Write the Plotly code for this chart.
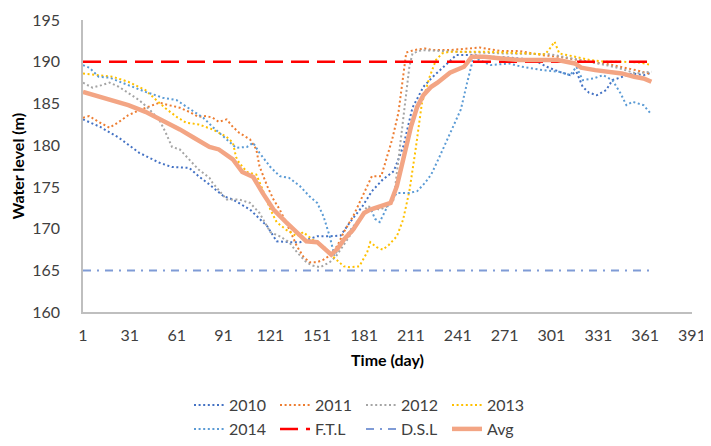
import plotly.graph_objects as go

# ---------------- data ----------------
days_2010 = [1,12,24,37,50,58,69,75,82,91,97,108,119,125,134,140,151,159,166,172,180,186,193,200,206,212,219,225,232,240,250,262,275,290,298,306,313,317,321,325,330,336,340,347,353,360,365]
wl_2010 = [183.1,182.2,180.9,179.1,177.9,177.4,177.3,176.3,175.3,173.9,173.5,172.3,170.3,168.5,168.4,168.4,169.1,169.1,169.2,170.8,172.7,174.5,175.9,176.9,179.8,184.5,187.0,188.2,189.4,190.8,190.8,190.6,190.5,190.2,189.4,188.8,188.4,188.8,187.0,186.3,186.0,186.6,187.8,188.2,188.6,188.4,188.7]

days_2011 = [1,5,11,18,24,30,37,43,50,56,63,69,75,80,84,88,93,97,101,108,112,114,119,123,127,134,138,142,146,151,155,159,164,168,174,178,182,186,192,195,199,203,205,207,208,213,220,225,236,255,268,280,295,305,315,325,335,345,355,365]
wl_2011 = [183.3,183.5,182.8,182.1,182.8,183.6,184.2,184.6,185.1,184.8,184.5,184.0,183.4,183.5,183.3,182.8,183.1,182.2,181.5,180.7,179.5,177.5,175.1,173.5,172.3,169.6,167.9,166.7,166.0,166.0,166.3,166.8,168.0,169.6,171.5,173.1,174.7,176.3,176.3,178.3,180.7,183.9,186.6,189.9,191.1,191.4,191.6,191.4,191.4,191.7,191.3,191.3,190.8,190.6,190.3,190.0,189.8,189.4,189.0,188.5]

days_2012 = [1,7,13,18,24,30,37,43,50,54,58,63,69,75,82,84,93,101,108,114,121,127,133,138,144,148,153,159,163,170,176,183,191,196,200,202,204,206,208,210,212,218,240,270,300,315,325,336,345,355,365]
wl_2012 = [187.5,186.9,187.2,187.5,187.0,186.3,185.4,184.4,183.0,181.5,179.8,179.5,178.3,177.1,176.1,175.5,173.5,173.5,173.1,171.9,169.6,169.1,168.4,167.2,166.0,165.6,165.4,166.0,166.7,168.7,170.3,172.7,172.3,172.7,173.5,176.7,179.8,183.4,186.6,189.4,191.0,191.4,191.2,191.0,190.9,190.4,190.0,189.6,189.2,188.6,188.8]

days_2013 = [1,12,20,30,41,48,54,61,67,75,84,93,97,99,101,106,112,116,121,125,131,138,142,148,155,161,168,172,178,183,185,189,193,197,202,206,210,214,218,223,227,231,236,260,290,297,300,303,306,315,326,336,347,358,365]
wl_2013 = [188.6,188.4,188.2,187.6,186.6,185.4,184.4,183.4,182.7,182.5,181.9,181.0,180.3,178.6,177.9,176.8,176.5,174.7,172.3,170.8,169.9,169.1,169.6,168.7,167.9,166.7,165.5,165.4,165.5,167.2,168.4,167.8,167.5,168.1,169.1,171.1,174.5,179.5,185.0,188.2,190.2,191.0,191.2,191.2,191.0,190.9,191.6,192.4,191.0,190.6,190.2,190.0,190.0,189.9,189.6]

days_2014 = [1,5,11,18,30,41,52,61,69,78,84,93,99,106,110,114,121,127,133,140,146,151,155,159,162,168,175,182,185,188,191,196,202,210,215,220,224,229,234,239,243,247,251,255,262,274,282,295,306,313,317,321,328,334,340,345,349,353,360,365]
wl_2014 = [189.6,189.3,188.2,188.1,187.2,186.4,185.7,185.4,184.4,183.3,182.2,180.7,179.7,179.8,180.3,179.1,177.4,176.3,176.1,175.1,173.9,173.1,171.5,169.1,166.8,168.8,170.5,172.0,172.5,171.2,170.8,172.7,174.3,174.3,174.5,175.5,176.5,178.5,180.5,182.5,184.3,187.5,190.5,190.2,189.6,189.8,189.4,189.0,188.8,188.4,189.4,187.8,188.0,188.4,187.8,186.3,184.8,185.2,184.8,183.7]

days_avg = [1,10,20,30,41,52,63,72,82,88,97,103,110,116,123,131,138,144,151,160,164,168,174,181,185,191,198,202,206,211,215,219,224,228,236,245,250,258,269,280,290,301,305,316,320,329,338,346,354,360,365]
wl_avg = [186.4,185.9,185.4,184.8,184.0,183.0,181.9,180.9,179.8,179.5,178.3,176.8,176.2,174.3,172.3,170.8,169.6,168.5,168.4,166.9,167.6,168.7,169.9,171.9,172.3,172.7,173.1,175.1,178.3,182.2,184.6,186.0,187.0,187.5,188.7,189.4,190.6,190.6,190.4,190.2,190.2,190.2,190.2,189.8,189.3,189.0,188.8,188.6,188.2,188.0,187.6]

ref_days = [1, 365]
ftl_level = [190, 190]
dsl_level = [165, 165]

x_ticks = [1, 31, 61, 91, 121, 151, 181, 211, 241, 271, 301, 331, 361, 391]
y_ticks = [160, 165, 170, 175, 180, 185, 190, 195]

# ---------------- figure ----------------
FONT = "Lato, Liberation Sans, sans-serif"
dot = "2px,2.6px"

fig = go.Figure()

def dotted(x, y, name, color):
    fig.add_trace(go.Scatter(x=x, y=y, name=name, mode="lines",
                             line=dict(color=color, width=2, dash=dot),
                             legend="legend"))

dotted(days_2010, wl_2010, "2010", "#4472C4")
dotted(days_2011, wl_2011, "2011", "#ED7D31")
dotted(days_2012, wl_2012, "2012", "#A5A5A5")
dotted(days_2013, wl_2013, "2013", "#FFC000")

fig.add_trace(go.Scatter(x=days_2014, y=wl_2014, name="2014", mode="lines",
                         line=dict(color="#5B9BD5", width=2, dash=dot), legend="legend2"))
fig.add_trace(go.Scatter(x=ref_days, y=ftl_level, name="F.T.L", mode="lines",
                         line=dict(color="#FF0000", width=2.5, dash="18px,8px"), legend="legend2"))
fig.add_trace(go.Scatter(x=ref_days, y=dsl_level, name="D.S.L", mode="lines",
                         line=dict(color="#7F9BD6", width=2, dash="8px,6px,2px,6px"), legend="legend2"))
fig.add_trace(go.Scatter(x=days_avg, y=wl_avg, name="Avg", mode="lines",
                         line=dict(color="#F3A584", width=4.5), legend="legend2"))

# the page body adds an 8px offset, so the figure is laid out 8px up/left
OFF = 8
W, H = 711 - OFF, 446 - OFF
PL, PR, PT, PB = 83 - OFF, 692 - OFF, 20 - OFF, 313 - OFF
PAPER_H = H - PT           # bottom margin is zero; legend lives inside the paper area
dom0 = (H - PB) / PAPER_H  # plot area starts above the legend/axis labels
LX = (189 - OFF - PL) / (PR - PL)
leg_common = dict(orientation="h", x=LX, xanchor="left", yanchor="middle",
                  entrywidth=41, entrywidthmode="pixels",
                  font=dict(family=FONT, size=16, color="#404040"),
                  bgcolor="rgba(0,0,0,0)", traceorder="normal")
fig.update_layout(
    width=W, height=H,
    margin=dict(l=PL, r=W - PR, t=PT, b=0),
    paper_bgcolor="white", plot_bgcolor="white",
    font=dict(family=FONT, size=15, color="#595959"),
    showlegend=True,
    legend=dict(y=(H - (405 - OFF)) / PAPER_H, **leg_common),
    legend2=dict(y=(H - (430 - OFF)) / PAPER_H, **leg_common),
    xaxis=dict(range=[1, 391], tickmode="array", tickvals=x_ticks, automargin=False,
               ticktext=[str(v) for v in x_ticks],
               showgrid=False, zeroline=False, showline=True, linecolor="#BFBFBF", linewidth=1.5,
               ticks="", tickfont=dict(size=16, color="#404040"), ticklabelstandoff=8,
               title=dict(text="<b>Time (day)</b>", font=dict(size=16, color="#000000"), standoff=12)),
    yaxis=dict(range=[160, 195], tickmode="array", tickvals=y_ticks, domain=[dom0, 1],
               automargin=False,
               showgrid=False, zeroline=False, showline=True, linecolor="#BFBFBF", linewidth=1.5,
               ticks="", tickfont=dict(size=16, color="#404040"), ticklabelstandoff=18,
               title=dict(text="<b>Water level (m)</b>", font=dict(size=16, color="#000000"), standoff=13)),
)

fig.write_html("out.html")
